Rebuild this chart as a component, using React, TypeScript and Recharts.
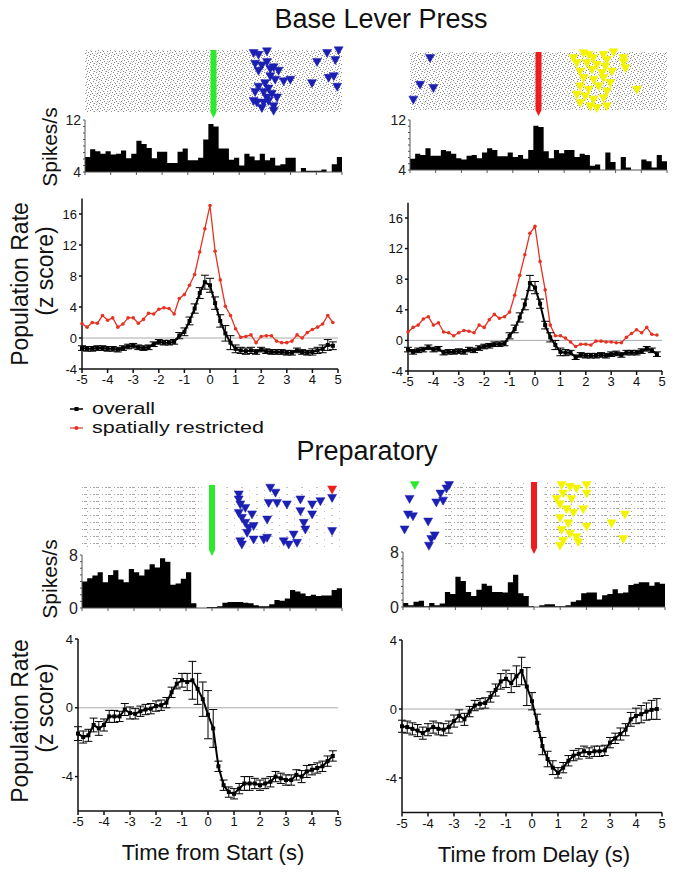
import React from 'react';
import {
  ComposedChart,
  Line,
  Area,
  Scatter,
  XAxis,
  YAxis,
  ReferenceLine,
  ReferenceArea,
  ReferenceDot,
  ErrorBar
} from 'recharts';

// time axis shared by all panels (bin starts / sample times, s)
const times = [
  -5, -4.8, -4.6, -4.4, -4.2, -4, -3.8, -3.6, -3.4, -3.2,
  -3, -2.8, -2.6, -2.4, -2.2, -2, -1.8, -1.6, -1.4, -1.2,
  -1, -0.8, -0.6, -0.4, -0.2, 0, 0.2, 0.4, 0.6, 0.8,
  1, 1.2, 1.4, 1.6, 1.8, 2, 2.2, 2.4, 2.6, 2.8,
  3, 3.2, 3.4, 3.6, 3.8, 4, 4.2, 4.4, 4.6, 4.8
];
const secondTicks = [-5, -4, -3, -2, -1, 0, 1, 2, 3, 4, 5];

// single-unit histograms, spikes/s per 200 ms bin
const baseStartRate = [
  6.3, 7.5, 7.2, 6.8, 7.2, 6.7, 6.8, 7.3, 6.1, 6.8,
  8.8, 8.3, 7.7, 6.1, 7.1, 7.1, 5.4, 5.4, 7.1, 7.6,
  5.8, 5.8, 6.2, 9.0, 11.4, 11.0, 7.6, 7.6, 5.9, 6.2,
  5.0, 6.8, 6.4, 5.8, 6.8, 5.8, 6.2, 5.0, 5.2, 6.2,
  6.2, 4.0, 4.6, 4.2, 4.2, 4.2, 4.4, 4.0, 5.2, 6.3
];
const baseDelayRate = [
  5.8, 6.6, 6.4, 7.5, 6.3, 6.3, 7.2, 7.0, 6.6, 5.9,
  5.7, 6.3, 6.4, 5.9, 6.8, 7.5, 7.2, 6.2, 6.2, 6.8,
  6.1, 6.4, 5.8, 7.2, 11.1, 10.9, 7.0, 5.9, 7.2, 6.7,
  7.2, 7.2, 6.1, 6.6, 6.4, 4.7, 4.9, 4.0, 6.8, 5.3,
  4.0, 6.1, 4.4, 4.0, 4.0, 5.7, 5.4, 4.4, 6.4, 5.4
];
const prepStartRate = [
  4.0, 4.5, 4.9, 5.4, 3.9, 5.0, 5.7, 4.3, 3.9, 5.9,
  5.4, 4.9, 5.8, 6.6, 6.1, 7.5, 7.0, 3.5, 3.7, 4.4,
  5.4, 0.7, 0, 0, 0.15, 0.15, 0.25, 0.8, 0.9, 0.9,
  0.9, 0.8, 0.7, 0.4, 0.25, 0.25, 0.55, 1.2, 1.1, 1.45,
  2.7, 2.5, 2.2, 1.8, 2.0, 1.8, 1.9, 1.9, 2.7, 3.0
];
const prepDelayRate = [
  0.6, 0.25, 0.75, 0.9, 0.1, 0.6, 0.25, 0.5, 2.2, 1.9,
  4.4, 3.8, 2.2, 1.6, 2.5, 3.4, 3.1, 2.2, 2.2, 2.1,
  3.6, 4.7, 2.0, 1.6, 0.1, 0, 0.25, 0.4, 0.4, 0.1,
  0.1, 0.25, 0.75, 1.0, 2.0, 2.1, 2.1, 1.1, 1.7, 1.9,
  2.6, 2.0, 2.1, 3.2, 3.4, 3.6, 3.6, 3.1, 3.6, 3.4
];

// population rate, z score
const baseStartOverall = [
  -1.3, -1.4, -1.4, -1.3, -1.3, -1.4, -1.4, -1.5, -1.3, -1.1,
  -1.0, -1.2, -1.3, -1.2, -0.8, -0.5, -0.6, -0.6, -0.5, 0.3,
  0.8, 2.2, 3.8, 5.8, 7.2, 6.8, 4.5, 2.2, 0.6, -0.6,
  -1.4, -1.6, -1.7, -1.6, -1.8, -1.5, -1.7, -1.8, -1.8, -1.8,
  -1.9, -1.9, -1.6, -1.8, -1.9, -1.8, -1.6, -1.4, -0.9, -1.0
];
const baseStartSem = [
  0.3, 0.3, 0.3, 0.3, 0.3, 0.3, 0.3, 0.3, 0.3, 0.3,
  0.3, 0.3, 0.3, 0.3, 0.3, 0.3, 0.3, 0.3, 0.3, 0.4,
  0.5, 0.5, 0.6, 0.7, 0.9, 0.9, 0.8, 0.8, 1.0, 0.9,
  0.5, 0.4, 0.4, 0.4, 0.3, 0.3, 0.3, 0.3, 0.3, 0.3,
  0.3, 0.3, 0.3, 0.3, 0.3, 0.4, 0.4, 0.5, 0.7, 0.5
];
const baseStartRestricted = [
  1.85, 1.4, 2.0, 1.9, 2.9, 2.3, 2.6, 1.4, 1.8, 2.6,
  2.6, 1.9, 2.4, 3.2, 3.1, 3.7, 3.9, 3.8, 3.1, 5.1,
  5.6, 6.8, 8.2, 11.1, 14.1, 17.1, 11.2, 7.5, 4.1, 2.9,
  1.2, 0.1, 0.2, 0.4, -0.6, 0.2, 0.3, 0.3, -0.4, -0.6,
  -0.6, -0.4, 0.4, 0.0, 0.7, 1.1, 1.4, 1.8, 2.9, 2.0
];
const baseDelayOverall = [
  -1.2, -1.5, -1.3, -1.2, -0.9, -1.2, -1.1, -1.6, -1.5, -1.5,
  -1.4, -1.5, -1.2, -1.3, -1.0, -0.8, -0.7, -0.5, -0.5, -0.4,
  0.6, 1.5, 3.0, 4.7, 7.5, 6.9, 4.8, 2.0, 0.4, -0.6,
  -1.5, -1.6, -1.6, -2.2, -1.9, -2.0, -2.0, -2.0, -1.9, -2.0,
  -1.8, -1.7, -1.9, -1.6, -1.6, -1.6, -1.4, -1.1, -1.3, -1.8
];
const baseDelaySem = [
  0.3, 0.3, 0.3, 0.3, 0.3, 0.3, 0.3, 0.3, 0.3, 0.3,
  0.3, 0.3, 0.3, 0.3, 0.3, 0.3, 0.3, 0.3, 0.3, 0.3,
  0.4, 0.5, 0.6, 0.7, 1.0, 0.8, 0.6, 0.5, 0.6, 0.6,
  0.5, 0.4, 0.3, 0.3, 0.3, 0.3, 0.3, 0.3, 0.3, 0.3,
  0.3, 0.3, 0.3, 0.3, 0.3, 0.3, 0.3, 0.3, 0.3, 0.3
];
const baseDelayRestricted = [
  1.1, 1.7, 2.0, 2.8, 3.1, 2.0, 2.3, 1.1, 1.0, 0.6,
  1.0, 1.3, 1.2, 1.0, 2.0, 1.7, 2.7, 3.4, 2.9, 3.1,
  3.7, 5.9, 8.5, 11.2, 14.0, 14.9, 10.3, 6.6, 2.0, 0.6,
  0.6, 0.3, -0.2, -0.8, -0.5, -0.5, -0.6, -0.1, -0.1, -0.2,
  -0.2, -0.3, -0.3, 0.4, 0.9, 1.4, 1.0, 1.7, 0.8, 0.7
];
const prepStartOverall = [
  -1.5, -1.7, -1.6, -1.0, -1.2, -1.0, -0.5, -0.5, -0.5, -0.1,
  -0.3, -0.35, -0.2, -0.1, -0.05, 0.1, 0.15, 0.3, 0.9, 1.4,
  1.6, 1.5, 1.6, 1.1, 0.5, -0.4, -1.2, -3.4, -4.5, -4.9,
  -5.0, -4.7, -4.4, -4.4, -4.4, -4.5, -4.4, -4.3, -4.0, -4.1,
  -4.2, -4.2, -3.9, -4.0, -3.7, -3.6, -3.5, -3.4, -3.1, -2.8
];
const prepStartSem = [
  0.4, 0.35, 0.35, 0.4, 0.4, 0.35, 0.35, 0.35, 0.3, 0.35,
  0.35, 0.3, 0.3, 0.3, 0.3, 0.3, 0.3, 0.3, 0.3, 0.3,
  0.4, 0.5, 1.1, 0.9, 1.0, 1.4, 1.1, 0.3, 0.3, 0.3,
  0.3, 0.3, 0.4, 0.4, 0.3, 0.3, 0.3, 0.3, 0.3, 0.3,
  0.3, 0.3, 0.3, 0.35, 0.35, 0.3, 0.3, 0.3, 0.3, 0.3
];
const prepDelayOverall = [
  -1.0, -1.05, -1.15, -1.25, -1.4, -1.2, -1.05, -1.15, -1.2, -1.05,
  -0.7, -0.4, -0.6, -0.15, 0.2, 0.3, 0.35, 0.7, 1.1, 1.6,
  1.75, 1.5, 1.9, 2.2, 1.3, 0.45, -0.8, -2.15, -2.9, -3.4,
  -3.7, -3.4, -3.0, -2.7, -2.6, -2.45, -2.55, -2.45, -2.45, -2.4,
  -1.95, -1.7, -1.45, -1.2, -0.6, -0.4, -0.3, -0.15, -0.05, 0.0
];
const prepDelaySem = [
  0.35, 0.35, 0.35, 0.35, 0.35, 0.35, 0.35, 0.35, 0.35, 0.35,
  0.35, 0.35, 0.35, 0.3, 0.3, 0.3, 0.3, 0.3, 0.35, 0.45,
  0.5, 0.55, 0.6, 0.8, 1.1, 0.5, 0.5, 0.5, 0.45, 0.4,
  0.3, 0.3, 0.3, 0.3, 0.3, 0.3, 0.3, 0.3, 0.3, 0.3,
  0.3, 0.3, 0.35, 0.35, 0.4, 0.45, 0.5, 0.5, 0.55, 0.6
];

// raster event markers, [time (s), trial]
const baseStartBlue: [number, number][] = [
  [1.56, 1.7], [1.75, 2.6], [2.08, 0.9], [1.62, 6.9], [1.88, 7.7], [2.08, 6.0],
  [1.75, 10.3], [2.21, 9.4], [2.53, 10.3], [2.21, 12.9], [2.4, 14.6], [2.73, 15.4],
  [2.99, 14.6], [2.01, 16.3], [1.75, 18.0], [2.14, 18.9], [1.62, 20.6], [1.95, 20.6],
  [2.27, 21.4], [2.08, 23.2], [2.47, 23.2], [1.69, 25.7], [1.95, 25.7], [2.14, 24.9],
  [2.34, 27.4], [1.88, 28.3], [2.34, 29.6], [1.56, 24.9], [4.03, 6.0], [4.42, 1.7],
  [4.74, 5.1], [4.87, 0.4], [4.68, 12.9], [4.48, 13.7], [4.81, 18.0], [3.83, 16.3],
  [2.34, 8.6]
];
const baseDelayBlue: [number, number][] = [
  [-4.22, 3.4], [-4.61, 17.2], [-4.09, 18.9], [-4.87, 24.9]
];
const baseDelayYellow: [number, number][] = [
  [1.75, 0.9], [1.95, 1.7], [2.14, 3.4], [2.53, 1.7], [2.92, 0.4], [2.66, 4.3],
  [1.49, 6.0], [1.88, 6.0], [2.27, 6.9], [2.6, 7.7], [1.62, 10.3], [2.08, 9.4],
  [2.47, 11.1], [2.86, 10.3], [1.75, 13.7], [2.14, 14.6], [2.53, 13.7], [2.79, 16.3],
  [1.62, 18.0], [1.95, 19.7], [2.34, 18.0], [2.66, 20.6], [1.49, 22.3], [1.82, 23.2],
  [2.14, 24.9], [2.53, 24.0], [1.62, 26.6], [2.01, 28.3], [2.27, 29.2], [2.66, 28.3],
  [3.31, 3.4], [3.31, 5.5], [3.38, 8.6], [3.83, 19.7], [1.36, 3.4]
];
const prepStartBlue: [number, number][] = [
  [1.03, 4.6], [1.09, 9.2], [1.03, 13.1], [1.15, 15.4], [1.28, 17.7], [1.54, 13.8],
  [1.41, 20.0], [1.6, 19.2], [1.35, 22.3], [1.09, 26.2], [1.15, 27.7], [1.6, 25.4],
  [1.99, 25.4], [2.12, 24.6], [2.12, 16.2], [2.24, 1.5], [2.44, 3.8], [2.5, 8.5],
  [2.18, 8.5], [2.88, 9.2], [3.4, 6.9], [3.85, 9.2], [4.17, 7.7], [4.62, 6.2],
  [3.85, 13.8], [3.4, 12.3], [3.59, 20.8], [3.14, 23.1], [3.27, 26.9], [2.76, 26.2],
  [2.95, 27.7], [3.53, 17.7], [4.62, 21.5], [1.03, 6.9], [1.28, 10.8]
];
const prepStartRed: [number, number][] = [[4.62, 2.3]];
const prepDelayGreen: [number, number][] = [[-4.55, 1.6]];
const prepDelayBlue: [number, number][] = [
  [-4.75, 7.9], [-4.81, 15.0], [-4.62, 15.8], [-4.94, 21.8], [-4.04, 18.2], [-3.73, 9.5],
  [-3.47, 8.7], [-3.57, 5.5], [-3.34, 3.2], [-3.24, 1.6], [-3.79, 24.5], [-3.92, 26.1],
  [-4.01, 29.2]
];
const prepDelayYellow: [number, number][] = [
  [1.05, 1.6], [1.37, 2.4], [1.62, 3.2], [1.11, 5.5], [1.43, 7.9], [0.99, 10.3],
  [1.24, 12.6], [1.5, 14.2], [0.99, 16.6], [1.31, 19.0], [1.05, 22.1], [1.37, 23.7],
  [1.11, 26.9], [0.99, 29.2], [2.01, 1.6], [2.01, 5.5], [1.88, 12.6], [3.47, 15.0],
  [2.96, 19.0], [2.01, 20.5], [3.41, 26.1], [1.62, 25.3], [1.69, 27.6], [0.86, 7.9]
];

const FONT = '"Liberation Sans", Arial, Helvetica, sans-serif';
const INK = '#111';
const BLUE = '#1b1fb2';
const YELLOW = '#f4f400';
const GREEN = '#2ee82e';
const RED = '#ee1c1c';
const LINE_RED = '#e53222';

type Box = { left: number; top: number; width: number; height: number };
type Margin = { top: number; right: number; bottom: number; left: number };

const downTriangle = (color: string) => (props: any) => {
  const { cx, cy } = props;
  if (cx == null || cy == null) return <g />;
  return (
    <polygon
      points={`${cx - 4.5},${cy - 4} ${cx + 4.5},${cy - 4} ${cx},${cy + 4}`}
      fill={color}
      stroke={color}
      strokeWidth={0.5}
    />
  );
};

// raster textures (spike ticks are too many to list; drawn as a fill pattern)
const stippleDark = [[0, 0], [5, 0], [9, 1], [2, 2], [7, 3], [11, 3], [4, 4], [1, 5], [8, 5], [6, 6], [10, 7], [3, 7]];
const stippleLight = [[3, 1], [11, 5], [0, 6], [6, 2], [9, 7], [2, 4]];
const rowDashes = [[0, 2, 3], [6, 2, 1], [9, 2, 2], [3, 5, 1]];

function Raster({
  id, box, margin, arrow, shades, marks
}: {
  id: string;
  box: Box;
  margin: Margin;
  arrow: string;
  shades: [number, number, string][];
  marks: { color: string; points: [number, number][] }[];
}) {
  return (
    <div style={{ position: 'absolute', left: box.left, top: box.top }}>
      <ComposedChart width={box.width} height={box.height} margin={margin}>
        <defs>
          <pattern id={`${id}-dense`} width={12} height={8} patternUnits="userSpaceOnUse">
            {stippleDark.map(([x, y]) => (
              <rect key={`d${x}-${y}`} x={x} y={y} width={1} height={1} fill="#8c8c8c" />
            ))}
            {stippleLight.map(([x, y]) => (
              <rect key={`l${x}-${y}`} x={x} y={y} width={1} height={1} fill="#c4c4c4" />
            ))}
          </pattern>
          <pattern id={`${id}-rows`} width={12} height={7} patternUnits="userSpaceOnUse">
            {rowDashes.map(([x, y, w]) => (
              <rect key={`${x}-${y}`} x={x} y={y} width={w} height={1} fill="#a8a8a8" />
            ))}
          </pattern>
          <pattern id={`${id}-sparse`} width={15} height={7} patternUnits="userSpaceOnUse">
            <rect x={1} y={2} width={2} height={1} fill="#c0c0c0" />
            <rect x={9} y={5} width={1} height={1} fill="#c0c0c0" />
          </pattern>
        </defs>
        <XAxis type="number" dataKey="t" domain={[-5, 5]} hide />
        <YAxis type="number" dataKey="trial" domain={[0, 30]} reversed hide />
        {shades.map(([t0, t1, kind]) => (
          <ReferenceArea
            key={`${t0}-${kind}`}
            x1={t0}
            x2={t1}
            y1={0}
            y2={30}
            fill={`url(#${id}-${kind})`}
            fillOpacity={1}
            stroke="none"
          />
        ))}
        <ReferenceLine x={0} stroke={arrow} strokeWidth={6} />
        <ReferenceDot
          x={0}
          y={30}
          ifOverflow="visible"
          shape={(p: any) => (
            <polygon
              points={`${p.cx - 3},${p.cy} ${p.cx + 3},${p.cy} ${p.cx},${p.cy + 6}`}
              fill={arrow}
            />
          )}
        />
        {marks.map((m, i) => (
          <Scatter
            key={i}
            data={m.points.map(([t, trial]) => ({ t, trial }))}
            fill={m.color}
            shape={downTriangle(m.color)}
            isAnimationActive={false}
          />
        ))}
      </ComposedChart>
    </div>
  );
}

function Histogram({
  box, margin, values, yTicks, labels, fontSize
}: {
  box: Box;
  margin: Margin;
  values: number[];
  yTicks: number[];
  labels: number[];
  fontSize: number;
}) {
  const data = times.map((t, i) => ({ t, rate: values[i] }));
  data.push({ t: 5, rate: values[values.length - 1] });
  return (
    <div style={{ position: 'absolute', left: box.left, top: box.top }}>
      <ComposedChart width={box.width} height={box.height} margin={margin} data={data}>
        <XAxis
          type="number"
          dataKey="t"
          domain={[-5, 5]}
          ticks={secondTicks}
          interval={0}
          height={6}
          tickSize={3}
          stroke="#555"
          tickFormatter={() => ''}
        />
        <YAxis
          type="number"
          domain={[yTicks[0], yTicks[yTicks.length - 1]]}
          ticks={yTicks}
          interval={0}
          width={30}
          tickSize={2}
          stroke="#555"
          tickFormatter={(v: number) => (labels.includes(v) ? String(v) : '')}
          tick={{ fontSize, fill: '#222' }}
        />
        <Area
          type="stepAfter"
          dataKey="rate"
          stroke="none"
          fill="#000"
          fillOpacity={1}
          baseValue="dataMin"
          isAnimationActive={false}
        />
      </ComposedChart>
    </div>
  );
}

const squareDot = (p: any) => (
  <rect key={p.key ?? p.index} x={p.cx - 2} y={p.cy - 2} width={4} height={4} fill="#000" />
);

function PopPlot({
  box, margin, domain, yTicks, overall, sem, restricted
}: {
  box: Box;
  margin: Margin;
  domain: [number, number];
  yTicks: number[];
  overall: number[];
  sem: number[];
  restricted?: number[];
}) {
  const data = times.map((t, i) => ({
    t,
    overall: overall[i],
    sem: sem[i],
    restricted: restricted ? restricted[i] : null
  }));
  return (
    <div style={{ position: 'absolute', left: box.left, top: box.top }}>
      <ComposedChart width={box.width} height={box.height} margin={margin} data={data}>
        <XAxis
          type="number"
          dataKey="t"
          domain={[-5, 5]}
          ticks={secondTicks}
          interval={0}
          height={28}
          tickSize={4}
          stroke={INK}
          strokeWidth={1.5}
          tick={{ fontSize: 13, fill: INK }}
        />
        <YAxis
          type="number"
          domain={domain}
          ticks={yTicks}
          interval={0}
          width={40}
          tickSize={3}
          allowDataOverflow
          stroke={INK}
          strokeWidth={1.5}
          tick={{ fontSize: 13, fill: INK }}
        />
        <ReferenceLine y={0} stroke="#aaa" strokeWidth={1} />
        {restricted && (
          <Line
            dataKey="restricted"
            stroke={LINE_RED}
            strokeWidth={1.3}
            dot={{ r: 1.8, fill: LINE_RED, stroke: 'none' }}
            isAnimationActive={false}
          />
        )}
        <Line
          dataKey="overall"
          stroke="#000"
          strokeWidth={2}
          dot={squareDot}
          isAnimationActive={false}
        >
          <ErrorBar dataKey="sem" width={4} stroke="#000" strokeWidth={1} direction="y" />
        </Line>
      </ComposedChart>
    </div>
  );
}

export default function App() {
  return (
    <div
      style={{
        position: 'absolute',
        left: 0,
        top: 0,
        width: 680,
        height: 875,
        background: '#fff',
        fontFamily: FONT,
        overflow: 'hidden'
      }}
    >
      <svg width={680} height={875} style={{ position: 'absolute', left: 0, top: 0 }} fontFamily={FONT}>
        <text x={381} y={28} fontSize={27} textAnchor="middle" fill={INK}>Base Lever Press</text>
        <text x={367} y={460} fontSize={27} textAnchor="middle" fill={INK}>Preparatory</text>

        <text transform="translate(57,147) rotate(-90)" fontSize={21} textAnchor="middle" fill={INK}>Spikes/s</text>
        <text transform="translate(57,579) rotate(-90)" fontSize={21} textAnchor="middle" fill={INK}>Spikes/s</text>

        <text transform="translate(28,284) rotate(-90)" fontSize={23} textAnchor="middle" fill={INK}>Population Rate</text>
        <text transform="translate(53,271) rotate(-90)" fontSize={23} textAnchor="middle" fill={INK}>(z score)</text>
        <text transform="translate(28,721) rotate(-90)" fontSize={23} textAnchor="middle" fill={INK}>Population Rate</text>
        <text transform="translate(53,708) rotate(-90)" fontSize={23} textAnchor="middle" fill={INK}>(z score)</text>

        <text x={213} y={860} fontSize={22} textAnchor="middle" fill={INK}>Time from Start (s)</text>
        <text x={534} y={862} fontSize={22} textAnchor="middle" fill={INK}>Time from Delay (s)</text>

        <line x1={70} x2={83} y1={409} y2={409} stroke="#000" strokeWidth={1.5} />
        <rect x={74.5} y={407} width={4} height={4} fill="#000" />
        <text x={92} y={414} fontSize={17} textLength={63} lengthAdjust="spacingAndGlyphs" fill={INK}>overall</text>
        <line x1={70} x2={83} y1={428} y2={428} stroke={LINE_RED} strokeWidth={1.2} />
        <circle cx={76.5} cy={428} r={2} fill={LINE_RED} />
        <text x={92} y={433} fontSize={17} textLength={172} lengthAdjust="spacingAndGlyphs" fill={INK}>spatially restricted</text>
      </svg>

      <Raster
        id="bs"
        box={{ left: 0, top: 40, width: 350, height: 80 }}
        margin={{ top: 10, right: 8, bottom: 8, left: 85 }}
        arrow={GREEN}
        shades={[[-5, 5, 'dense']]}
        marks={[{ color: BLUE, points: baseStartBlue }]}
      />
      <Raster
        id="bd"
        box={{ left: 340, top: 40, width: 340, height: 80 }}
        margin={{ top: 12, right: 13, bottom: 10, left: 70 }}
        arrow={RED}
        shades={[[-5, 5, 'dense']]}
        marks={[
          { color: BLUE, points: baseDelayBlue },
          { color: YELLOW, points: baseDelayYellow }
        ]}
      />
      <Raster
        id="ps"
        box={{ left: 0, top: 478, width: 350, height: 80 }}
        margin={{ top: 7, right: 8, bottom: 8, left: 82 }}
        arrow={GREEN}
        shades={[[-5, -0.4, 'rows'], [0.4, 5, 'sparse']]}
        marks={[
          { color: BLUE, points: prepStartBlue },
          { color: RED, points: prepStartRed }
        ]}
      />
      <Raster
        id="pd"
        box={{ left: 340, top: 478, width: 340, height: 80 }}
        margin={{ top: 4, right: 15, bottom: 10, left: 63 }}
        arrow={RED}
        shades={[[-3.4, -0.3, 'rows'], [0.4, 5, 'rows']]}
        marks={[
          { color: GREEN, points: prepDelayGreen },
          { color: BLUE, points: prepDelayBlue },
          { color: YELLOW, points: prepDelayYellow }
        ]}
      />

      <Histogram
        box={{ left: 0, top: 112, width: 350, height: 70 }}
        margin={{ top: 8, right: 8, bottom: 4, left: 55 }}
        values={baseStartRate}
        yTicks={[4, 5, 6, 7, 8, 9, 10, 11, 12]}
        labels={[4, 12]}
        fontSize={14}
      />
      <Histogram
        box={{ left: 340, top: 112, width: 340, height: 70 }}
        margin={{ top: 8, right: 13, bottom: 6, left: 40 }}
        values={baseDelayRate}
        yTicks={[4, 5, 6, 7, 8, 9, 10, 11, 12]}
        labels={[4, 12]}
        fontSize={14}
      />
      <Histogram
        box={{ left: 0, top: 548, width: 350, height: 70 }}
        margin={{ top: 7, right: 8, bottom: 4, left: 52 }}
        values={prepStartRate}
        yTicks={[0, 1, 2, 3, 4, 5, 6, 7, 8]}
        labels={[0, 8]}
        fontSize={16}
      />
      <Histogram
        box={{ left: 340, top: 545, width: 340, height: 70 }}
        margin={{ top: 7, right: 15, bottom: 2, left: 33 }}
        values={prepDelayRate}
        yTicks={[0, 1, 2, 3, 4, 5, 6, 7, 8]}
        labels={[0, 8]}
        fontSize={16}
      />

      <PopPlot
        box={{ left: 0, top: 190, width: 350, height: 215 }}
        margin={{ top: 8.5, right: 12, bottom: 8, left: 42 }}
        domain={[-4, 18]}
        yTicks={[-4, 0, 4, 8, 12, 16]}
        overall={baseStartOverall}
        sem={baseStartSem}
        restricted={baseStartRestricted}
      />
      <PopPlot
        box={{ left: 340, top: 190, width: 340, height: 215 }}
        margin={{ top: 12.7, right: 18, bottom: 6, left: 28 }}
        domain={[-4, 18]}
        yTicks={[-4, 0, 4, 8, 12, 16]}
        overall={baseDelayOverall}
        sem={baseDelaySem}
        restricted={baseDelayRestricted}
      />
      <PopPlot
        box={{ left: 0, top: 630, width: 350, height: 215 }}
        margin={{ top: 9, right: 12, bottom: 6, left: 38 }}
        domain={[-6, 4]}
        yTicks={[-4, 0, 4]}
        overall={prepStartOverall}
        sem={prepStartSem}
      />
      <PopPlot
        box={{ left: 340, top: 630, width: 340, height: 215 }}
        margin={{ top: 10, right: 18, bottom: 4.5, left: 22 }}
        domain={[-6, 4]}
        yTicks={[-4, 0, 4]}
        overall={prepDelayOverall}
        sem={prepDelaySem}
      />
    </div>
  );
}
